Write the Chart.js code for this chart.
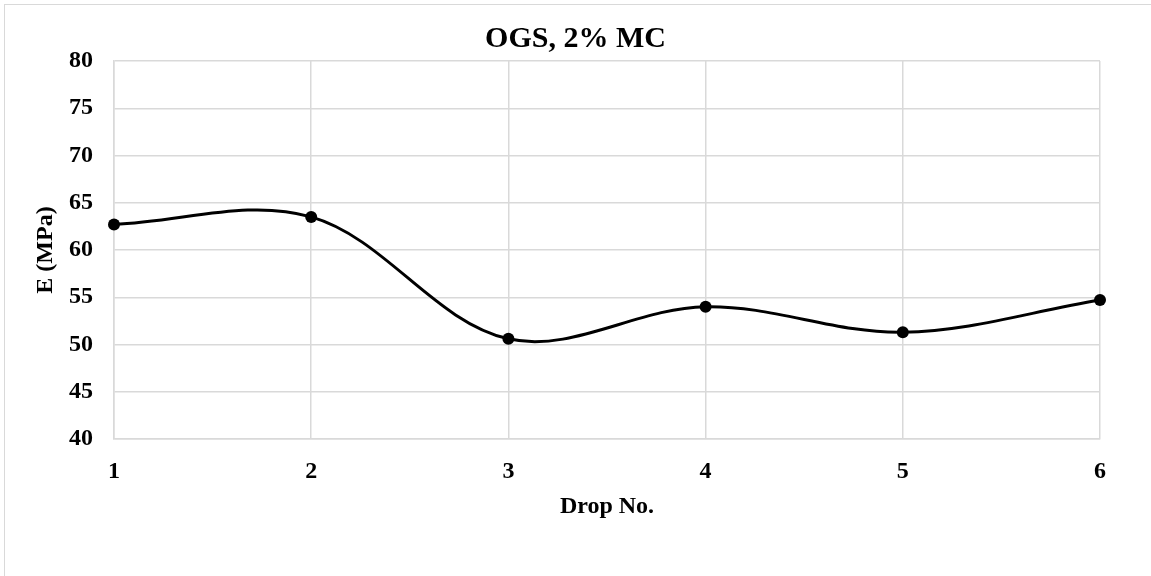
<!DOCTYPE html>
<html>
<head>
<meta charset="utf-8">
<script src="https://cdn.jsdelivr.net/npm/chart.js@4"></script>
<style>
    html, body { margin: 0; padding: 0; background: #fff; overflow: hidden; }
    #wrap { position: relative; width: 1151px; height: 576px; }
    #frame { position: absolute; left: 4px; top: 4px; width: 1200px; height: 700px; border: 1px solid #d9d9d9; box-sizing: border-box; }
    canvas { position: absolute; left: 0; top: 0; }
</style>
</head>
<body>
<div id="wrap">
    <div id="frame"></div>
    <canvas id="dropChart" width="1151" height="576"></canvas>
</div>
<script>
        const dropNumbers = [1, 2, 3, 4, 5, 6];
        const modulusValues = [62.7, 63.5, 50.6, 54.0, 51.3, 54.7];
        const yTicks = [40, 45, 50, 55, 60, 65, 70, 75, 80];

        const serif = "'Liberation Serif', 'Times New Roman', serif";
        const gridGray = '#d9d9d9';

        const points = dropNumbers.map((x, i) => ({ x: x, y: modulusValues[i] }));

        const ctx = document.getElementById('dropChart').getContext('2d');
        const dropChart = new Chart(ctx, {
            type: 'line',
            data: {
                datasets: [{
                    label: 'E (MPa)',
                    data: points,
                    borderColor: '#000000',
                    backgroundColor: '#000000',
                    borderWidth: 3,
                    pointRadius: 6,
                    pointHoverRadius: 6,
                    pointBackgroundColor: '#000000',
                    pointBorderWidth: 0,
                    tension: 0.35,
                    fill: false,
                    clip: false
                }]
            },
            options: {
                responsive: false,
                animation: false,
                layout: {
                    padding: 0
                },
                plugins: {
                    legend: { display: false },
                    tooltip: { enabled: false },
                    title: {
                        display: true,
                        text: 'OGS, 2% MC',
                        color: '#000000',
                        font: { family: serif, size: 30, weight: 'bold', lineHeight: 1.2 },
                        padding: { top: 21, bottom: 4 }
                    }
                },
                scales: {
                    x: {
                        type: 'linear',
                        min: dropNumbers[0],
                        max: dropNumbers[dropNumbers.length - 1],
                        afterFit: function(scale) { scale.height = 137; },
                        afterBuildTicks: function(scale) {
                            scale.ticks = dropNumbers.map(v => ({ value: v }));
                        },
                        grid: { color: gridGray, lineWidth: 1.5, drawTicks: false },
                        border: { color: gridGray, width: 1.5 },
                        ticks: {
                            color: '#000000',
                            padding: 18,
                            font: { family: serif, size: 24, weight: 'bold' }
                        },
                        title: {
                            display: true,
                            text: 'Drop No.',
                            color: '#000000',
                            font: { family: serif, size: 24, weight: 'bold', lineHeight: 1.2 },
                            padding: { top: 0, bottom: 55 }
                        }
                    },
                    y: {
                        min: yTicks[0],
                        max: yTicks[yTicks.length - 1],
                        afterFit: function(scale) { scale.width = 114; },
                        afterBuildTicks: function(scale) {
                            scale.ticks = yTicks.map(v => ({ value: v }));
                        },
                        grid: { color: gridGray, lineWidth: 1.5, drawTicks: false },
                        border: { color: gridGray, width: 1.5 },
                        ticks: {
                            color: '#000000',
                            padding: 21,
                            font: { family: serif, size: 24, weight: 'bold' }
                        },
                        title: {
                            display: true,
                            text: 'E (MPa)',
                            color: '#000000',
                            font: { family: serif, size: 24, weight: 'bold', lineHeight: 1.2 },
                            padding: { top: 31, bottom: 0 }
                        }
                    },
                    // empty strip on the right so the chart title centres on the whole chart
                    rightGap: {
                        position: 'right',
                        afterFit: function(scale) { scale.width = 51; },
                        grid: { display: false },
                        border: { display: false },
                        ticks: { display: false }
                    }
                }
            }
        });
</script>
</body>
</html>
